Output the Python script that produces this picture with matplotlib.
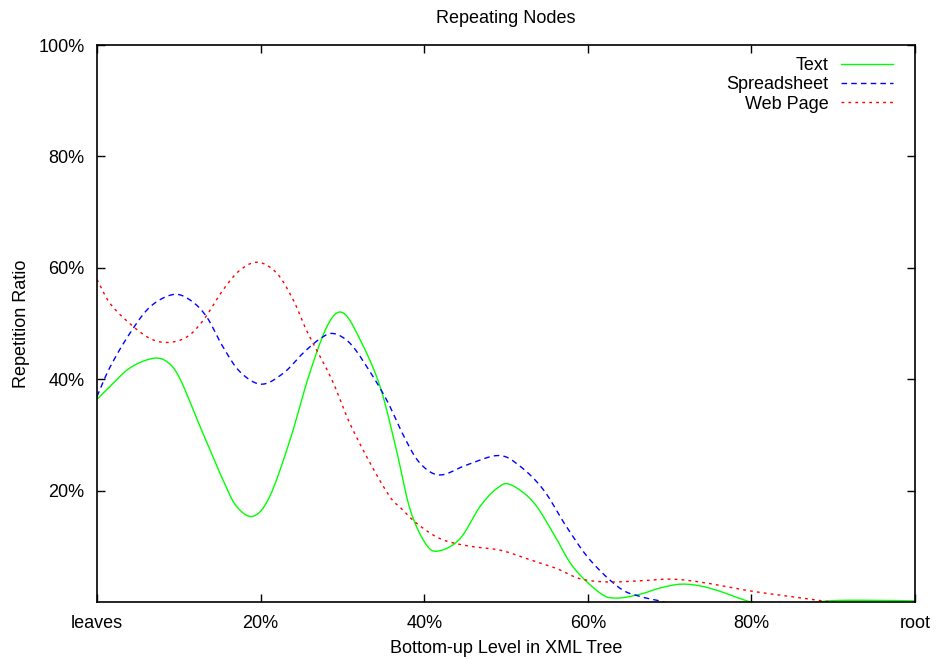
import matplotlib
matplotlib.use("Agg")
import matplotlib.pyplot as plt
import numpy as np

plt.rcParams['font.family'] = ['Liberation Sans', 'DejaVu Sans']

title = "Repeating Nodes"
xlabel = "Bottom-up Level in XML Tree"
ylabel = "Repetition Ratio"

x_ticks = [0, 20, 40, 60, 80, 100]
x_ticklabels = ["leaves", "20%", "40%", "60%", "80%", "root"]
y_ticks = [20, 40, 60, 80, 100]
y_ticklabels = ["20%", "40%", "60%", "80%", "100%"]

text_x = [0, 1.6, 4.0, 6.7, 8.5, 10.1, 12.6, 15.4, 17.1, 19.1, 21.1, 23.6, 26.0, 28.3,
          30.1, 32.2, 34.6, 36.6, 38.3, 40.3, 41.9, 44.4, 46.8, 48.9, 50.5, 53.3,
          55.8, 58.2, 61.5, 63.5, 66.4, 68.8, 71.3, 73.7, 76.2, 79.8, 82, 86, 90, 95, 100]
text_y = [36.4, 38.7, 42.0, 43.7, 43.2, 40.2, 31.5, 21.9, 17.1, 15.4, 18.9, 29.1, 41.1, 50.0,
          51.9, 47.0, 38.7, 27.3, 16.5, 10.2, 9.2, 11.4, 17.1, 20.4, 21.1, 18.0,
          12.3, 6.3, 1.6, 0.7, 1.4, 2.5, 3.2, 2.9, 1.9, 0.05, -0.4, -0.3, 0.25, 0.3, 0.2]

sheet_x = [0, 1.6, 4.0, 6.5, 9.3, 11.4, 13.4, 15.4, 17.5, 20.1, 22.8, 25.2, 27.3, 28.9,
           30.9, 33.0, 35.4, 37.6, 39.5, 41.9, 45.2, 49.1, 51.7, 54.6, 57.4, 60.3,
           63.9, 66.4, 68.8, 71, 80, 90, 100]
sheet_y = [36.9, 42.2, 48.2, 53.0, 55.2, 54.2, 51.2, 45.8, 41.3, 39.1, 41.1, 44.7, 47.3, 48.2,
           46.5, 42.2, 36.3, 29.5, 24.9, 22.8, 24.6, 26.3, 24.4, 20.1, 13.5, 7.5,
           2.5, 1.0, 0.2, -0.5, -2.0, -1.0, -0.5]

web_x = [0, 1.6, 4.0, 6.5, 8.7, 11.0, 13.0, 15.4, 17.5, 19.7, 22.0, 24.0, 25.6, 27.3,
         28.9, 30.9, 33.4, 35.8, 37.2, 39.1, 41.9, 45.2, 49.3, 52.5, 56.2, 59.0,
         62.3, 66.4, 70.4, 74.5, 79.8, 84.7, 88.8, 92, 100]
web_y = [57.9, 53.6, 50.0, 47.3, 46.6, 47.6, 50.6, 56.0, 59.6, 61.0, 59.0, 54.2, 48.8, 44.0,
         39.3, 32.1, 24.9, 18.9, 16.8, 14.1, 11.4, 10.1, 9.3, 7.8, 6.0, 4.2,
         3.6, 3.8, 4.1, 3.4, 2.0, 1.0, 0.2, -0.3, -0.5]


def smooth(xs, ys, n=8):
    """Catmull-Rom rendering of the read points (like gnuplot's smoothed lines)."""
    x = np.asarray(xs, float)
    y = np.asarray(ys, float)
    px = np.concatenate([[2 * x[0] - x[1]], x, [2 * x[-1] - x[-2]]])
    py = np.concatenate([[2 * y[0] - y[1]], y, [2 * y[-1] - y[-2]]])
    ox, oy = [], []
    t = np.linspace(0, 1, n, endpoint=False)
    for i in range(1, len(px) - 2):
        for arr, out in ((px, ox), (py, oy)):
            p0, p1, p2, p3 = arr[i - 1], arr[i], arr[i + 1], arr[i + 2]
            out.extend(0.5 * (2 * p1 + (-p0 + p2) * t + (2 * p0 - 5 * p1 + 4 * p2 - p3) * t ** 2
                              + (-p0 + 3 * p1 - 3 * p2 + p3) * t ** 3))
    ox.append(x[-1])
    oy.append(y[-1])
    return ox, oy


fig = plt.figure(figsize=(9.36, 6.59), dpi=100)
ax = fig.add_axes([97/936, 1-602/659, (915-97)/936, (602-45)/659])

ax.plot(*smooth(text_x, text_y), color='#00ff00', lw=1.0, label='Text')
ax.plot(*smooth(sheet_x, sheet_y), color='#0000ff', lw=1.0, dashes=(4, 3), label='Spreadsheet')
ax.plot(*smooth(web_x, web_y), color='#ff0000', lw=1.0, dashes=(2, 3), label='Web Page')

ax.set_xlim(0, 100)
ax.set_ylim(0, 100)
ax.set_xticks(x_ticks)
ax.set_xticklabels(x_ticklabels)
ax.set_yticks(y_ticks)
ax.set_yticklabels(y_ticklabels)
ax.tick_params(direction='in', length=6, width=1, top=True, right=True,
               labelsize=13, colors='black')
ax.tick_params(axis='x', pad=9)
ax.tick_params(axis='y', pad=9)
for s in ax.spines.values():
    s.set_linewidth(1.2)

ax.set_title(title, fontsize=13, pad=16)
ax.set_xlabel(xlabel, fontsize=13, labelpad=6)
ax.set_ylabel(ylabel, fontsize=13)
ax.yaxis.set_label_coords(-0.082, 0.5)

leg = ax.legend(loc='upper right', frameon=False, markerfirst=False, fontsize=13,
                handlelength=2.9, handletextpad=0.65, labelspacing=0.12,
                borderpad=0, borderaxespad=0, bbox_to_anchor=(0.973, 0.978))

fig.savefig('out.png', dpi=100)
